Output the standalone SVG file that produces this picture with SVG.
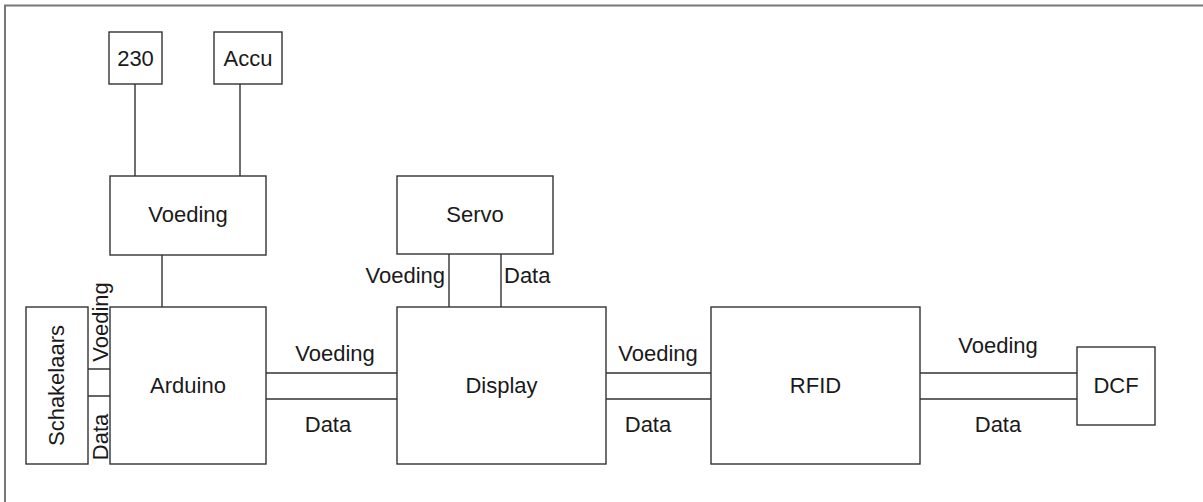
<svg xmlns="http://www.w3.org/2000/svg" width="1203" height="502" viewBox="0 0 1203 502">
<style>
.box{fill:#fff;stroke:#333;stroke-width:1.4}
.ln{stroke:#333;stroke-width:1.4;fill:none}
text{font-family:"Liberation Sans",Arial,sans-serif;font-size:22px;fill:#1a1a1a}
.c{text-anchor:middle}
.frame{stroke:#777;stroke-width:2;fill:none}
</style>
<rect width="1203" height="502" fill="#fff"/>
<path class="frame" d="M5,502 V5.5 H1203"/>
<g id="n230"><rect class="box" x="109" y="32" width="53" height="52"/><text class="c" x="135.5" y="66">230</text></g>
<g id="accu"><rect class="box" x="214" y="32" width="68" height="52"/><text class="c" x="248" y="66">Accu</text></g>
<g id="voeding"><rect class="box" x="110" y="176" width="156" height="79"/><text class="c" x="188" y="222">Voeding</text></g>
<g id="schakelaars"><rect class="box" x="26" y="307" width="62" height="157"/><text class="c" transform="translate(64,385.5) rotate(-90)">Schakelaars</text></g>
<g id="arduino"><rect class="box" x="110" y="307" width="156" height="157"/><text class="c" x="188" y="393">Arduino</text></g>
<g id="servo"><rect class="box" x="397" y="176" width="156" height="78"/><text class="c" x="475" y="222">Servo</text></g>
<g id="display"><rect class="box" x="397" y="307" width="209" height="157"/><text class="c" x="501.5" y="393">Display</text></g>
<g id="rfid"><rect class="box" x="711" y="307" width="209" height="157"/><text class="c" x="815.5" y="393">RFID</text></g>
<g id="dcf"><rect class="box" x="1077" y="347" width="78" height="78"/><text class="c" x="1116" y="393">DCF</text></g>
<g id="connectors">
<path class="ln" d="M135,84 V176 M240,84 V176 M162,255 V307"/>
<path class="ln" d="M88,369 H110 M88,396 H110"/>
<path class="ln" d="M449,254 V307 M501,254 V307"/>
<path class="ln" d="M266,373 H397 M266,399 H397"/>
<path class="ln" d="M606,373 H711 M606,399 H711"/>
<path class="ln" d="M920,373 H1077 M920,399 H1077"/>
<text class="c" transform="translate(108,322) rotate(-90)">Voeding</text>
<text class="c" transform="translate(108,437) rotate(-90)">Data</text>
<text x="445" y="283" text-anchor="end">Voeding</text>
<text x="504" y="283">Data</text>
<text class="c" x="335" y="361">Voeding</text>
<text class="c" x="328" y="432">Data</text>
<text class="c" x="658" y="361">Voeding</text>
<text class="c" x="648" y="432">Data</text>
<text class="c" x="998" y="353">Voeding</text>
<text class="c" x="998" y="432">Data</text>
</g>
</svg>
